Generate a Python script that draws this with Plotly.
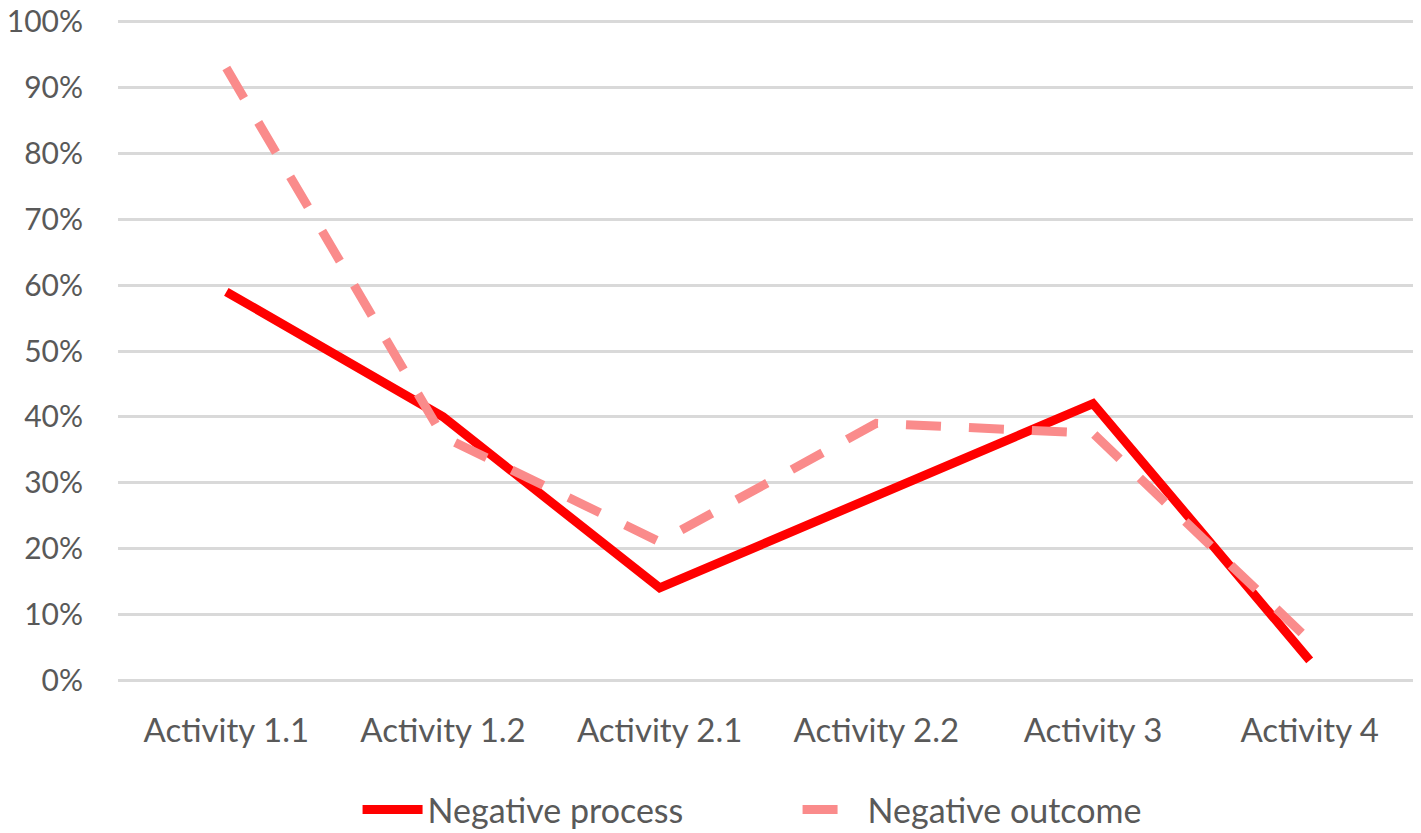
import plotly.graph_objects as go

activities = ["Activity 1.1", "Activity 1.2", "Activity 2.1", "Activity 2.2", "Activity 3", "Activity 4"]
negative_process = [0.59, 0.40, 0.14, 0.28, 0.42, 0.03]
negative_outcome = [0.93, 0.37, 0.21, 0.39, 0.375, 0.06]
y_ticks = [0, 0.1, 0.2, 0.3, 0.4, 0.5, 0.6, 0.7, 0.8, 0.9, 1.0]

fig = go.Figure()

fig.add_trace(go.Scatter(
    x=activities,
    y=negative_process,
    mode="lines",
    name="Negative process",
    line=dict(color="#ff0000", width=9),
))

fig.add_trace(go.Scatter(
    x=activities,
    y=negative_outcome,
    mode="lines",
    name="Negative outcome",
    line=dict(color="#fa8b8b", width=9, dash="35px,28px"),
))

fig.update_layout(
    width=1421,
    height=833,
    plot_bgcolor="white",
    paper_bgcolor="white",
    font=dict(family="Lato", size=33, color="#595959"),
    margin=dict(l=110, r=11, t=12, b=159),
    showlegend=True,
    legend=dict(
        orientation="h",
        xref="container",
        yref="container",
        x=0.246,
        xanchor="left",
        y=0.072,
        yanchor="top",
        font=dict(size=34, color="#595959"),
        itemwidth=60,
        entrywidth=365,
    ),
    xaxis=dict(
        range=[-0.5, 5.5],
        showgrid=False,
        showline=False,
        zeroline=False,
        ticks="",
        ticklabelstandoff=26,
        automargin=False,
    ),
    yaxis=dict(
        range=[-0.003, 1.003],
        tickvals=y_ticks,
        tickformat=".0%",
        tickfont=dict(size=30),
        showgrid=True,
        gridcolor="#d9d9d9",
        gridwidth=3,
        showline=False,
        zeroline=False,
        ticks="",
        ticklabelstandoff=34,
        ticklabeloverflow="allow",
        automargin=False,
    ),
)

fig.write_html("out.html")
